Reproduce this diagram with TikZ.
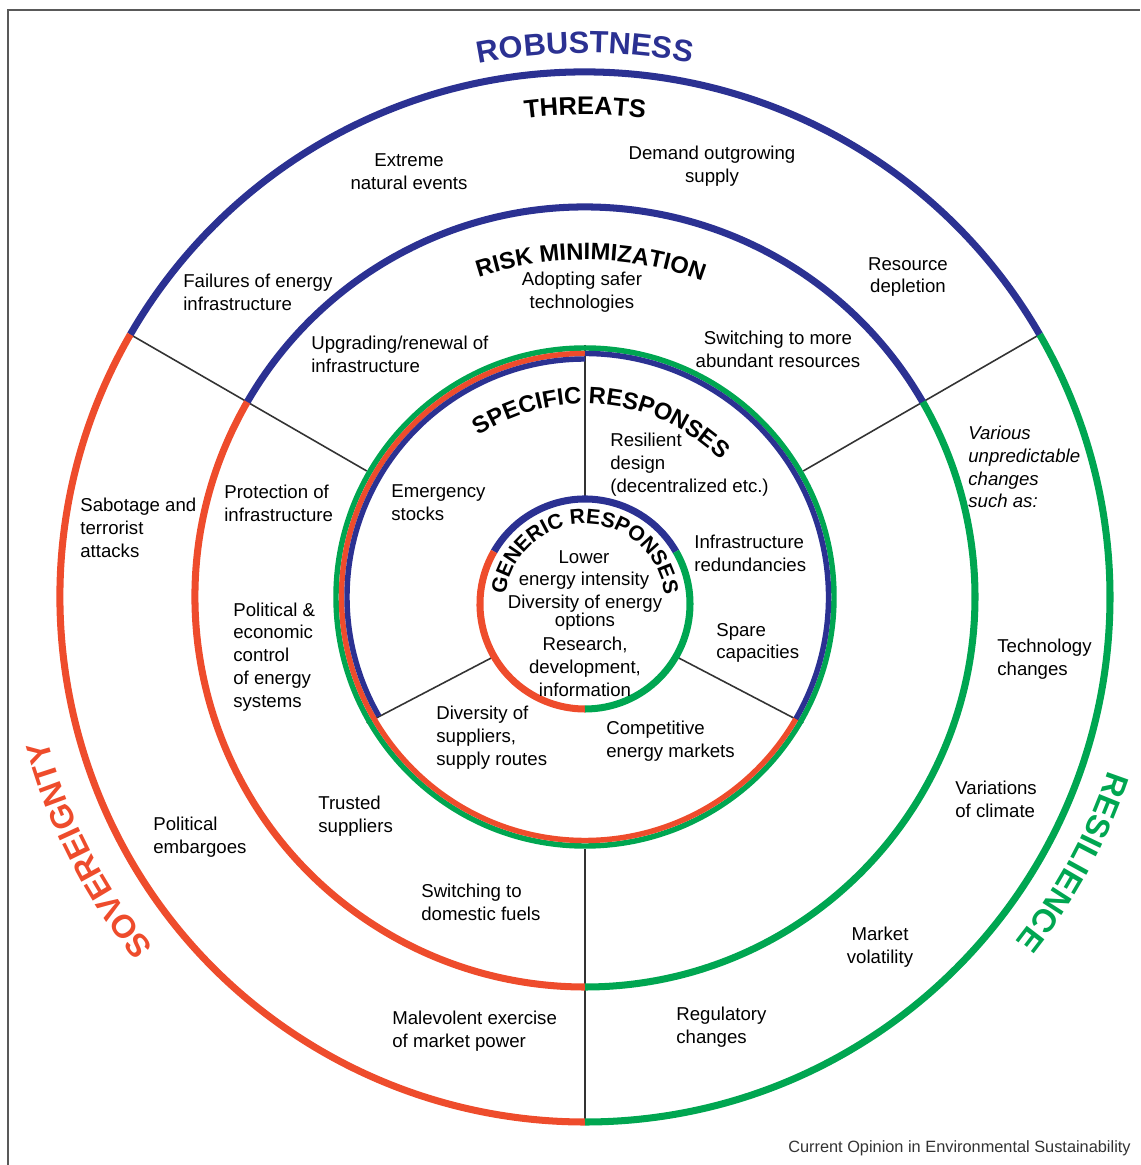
\documentclass[tikz,border=0pt]{standalone}
\usepackage{fontspec}
\setmainfont{Liberation Sans}
\usetikzlibrary{calc,decorations.text}
\definecolor{robblue}{RGB}{43,49,146}
\definecolor{sovred}{RGB}{238,76,44}
\definecolor{resgreen}{RGB}{0,166,81}
\newcommand{\bigtitle}{\bfseries\fontsize{17.5}{20}\selectfont}
\newcommand{\sidetitle}{\bfseries\fontsize{18.5}{21}\selectfont}
\newcommand{\ringtitle}{\bfseries\fontsize{14.5}{17}\selectfont}
\newcommand{\midtitle}{\bfseries\fontsize{13.5}{16}\selectfont}
\newcommand{\smalltitle}{\bfseries\fontsize{12}{14}\selectfont}
\begin{document}
\begin{tikzpicture}[x=0.02cm, y=0.02cm,
    lbl/.style={font=\fontsize{10.6}{13}\selectfont, align=left, anchor=west, inner sep=0pt},
    lblc/.style={lbl, align=center, anchor=center},
    lbli/.style={lbl, font=\fontsize{10.6}{13}\selectfont\itshape},
    ring/.style={line width=4pt},
    band/.style={line width=3.1pt},
    divider/.style={line width=0.9pt, black!80}]
    \useasboundingbox (-585,-568) rectangle (555,597);
    \draw[gray!70!black, line width=0.9pt] (-577,-568) -- (-577,587) -- (555,587);

    \coordinate (c) at (0,0);
    \coordinate (gc) at (0,-7);
    \coordinate (o30) at (30:525);
    \coordinate (o150) at (150:525);
    \coordinate (o270) at (270:525);
    \coordinate (s30) at (30:252);
    \coordinate (s150) at (150:252);
    \coordinate (s270) at (270:252);
    \coordinate (s90) at (90:252);
    \coordinate (s210) at (210:252);
    \coordinate (s330) at (330:252);
    \coordinate (g90) at ($(gc)+(90:105)$);
    \coordinate (g210) at ($(gc)+(210:105)$);
    \coordinate (g330) at ($(gc)+(330:105)$);

    \draw[divider] (o30) -- (s30);
    \draw[divider] (o150) -- (s150);
    \draw[divider] (o270) -- (s270);
    \draw[divider] (s90) -- (g90);
    \draw[divider] (s210) -- (g210);
    \draw[divider] (s330) -- (g330);

    \draw[ring, robblue] (30:525) arc[start angle=30, end angle=150, radius=525];
    \draw[ring, sovred] (150:525) arc[start angle=150, end angle=270, radius=525];
    \draw[ring, resgreen] (270:525) arc[start angle=270, end angle=390, radius=525];
    \draw[ring, robblue] (30:390) arc[start angle=30, end angle=150, radius=390];
    \draw[ring, sovred] (150:390) arc[start angle=150, end angle=270, radius=390];
    \draw[ring, resgreen] (270:390) arc[start angle=270, end angle=390, radius=390];
    \draw[band, resgreen] (c) circle[radius=249];
    \draw[band, sovred] (90:243.5) arc[start angle=90, end angle=330, radius=243.5];
    \draw[band, robblue] (90:238) arc[start angle=90, end angle=210, radius=238];
    \draw[band, robblue] (330:243.5) arc[start angle=330, end angle=450, radius=243.5];
    \draw[ring, robblue] ($(gc)+(30:105)$) arc[start angle=30, end angle=150, radius=105];
    \draw[ring, sovred] ($(gc)+(150:105)$) arc[start angle=150, end angle=270, radius=105];
    \draw[ring, resgreen] ($(gc)+(270:105)$) arc[start angle=270, end angle=390, radius=105];

    \path[decorate, decoration={text along path, text align=center, text color=robblue,
        text={|\bigtitle|ROBUSTNESS}}] (120:544) arc[start angle=120, end angle=60, radius=544];
    \path[decorate, decoration={text along path, text align=center, text color=sovred,
        text={|\sidetitle|SOVEREIGNTY}}] (237:556) arc[start angle=237, end angle=177, radius=556];
    \path[decorate, decoration={text along path, text align=center, text color=resgreen,
        text={|\sidetitle|RESILIENCE}}] (1.5:551) arc[start angle=1.5, end angle=-58.5, radius=551];
    \path[decorate, decoration={text along path, text align=center,
        text={|\ringtitle|THREATS}}] (110:482) arc[start angle=110, end angle=70, radius=482];
    \path[decorate, decoration={text along path, text align=center,
        text={|\midtitle|RISK MINIMIZATION}}] (124:337) arc[start angle=124, end angle=54, radius=337];
    \path[decorate, decoration={text along path, text align=center,
        text={|\midtitle|SPECIFIC RESPONSES}}] (144.3:193) arc[start angle=144.3, end angle=24.3, radius=193];
    \path[decorate, decoration={text along path, text align=center,
        text={|\smalltitle|GENERIC RESPONSES}}] ($(gc)+(200:80)$) arc[start angle=200, end angle=-20, radius=80];

    \node[lblc] (extreme) at (-176,425) {Extreme\\natural events};
    \node[lblc] (demand) at (127,431) {Demand outgrowing\\supply};
    \node[lbl] (failures) at (-402,305) {Failures of energy\\infrastructure};
    \node[lblc] (depletion) at (323,320) {Resource\\depletion};
    \node[lbl] (sabotage) at (-505,69) {Sabotage and\\terrorist\\attacks};
    \node[lbl] (embargoes) at (-432,-240) {Political\\embargoes};
    \node[lbl] (malevolent) at (-193,-434) {Malevolent exercise\\of market power};
    \node[lbl] (regulatory) at (91,-430) {Regulatory\\changes};
    \node[lblc] (volatility) at (295,-350) {Market\\volatility};
    \node[lbl] (climate) at (370,-202) {Variations\\of climate};
    \node[lbl] (technology) at (412,-62) {Technology\\changes};
    \node[lbli] (various) at (383,130) {Various\\unpredictable\\changes\\such as:};

    \node[lblc] (safer) at (-3,305) {Adopting safer\\technologies};
    \node[lbl] (upgrading) at (-274,243) {Upgrading/renewal of\\infrastructure};
    \node[lblc] (abundant) at (193,248) {Switching to more\\abundant resources};
    \node[lbl] (protection) at (-361,94) {Protection of\\infrastructure};
    \node[lbl] (control) at (-352,-60) {Political \&\\economic\\control\\of energy\\systems};
    \node[lbl] (trusted) at (-267,-219) {Trusted\\suppliers};
    \node[lbl] (domestic) at (-164,-305) {Switching to\\domestic fuels};

    \node[lbl] (stocks) at (-194,94) {Emergency\\stocks};
    \node[lbl] (resilient) at (25,132) {Resilient\\design\\(decentralized etc.)};
    \node[lbl] (redundancies) at (109,44) {Infrastructure\\redundancies};
    \node[lbl] (spare) at (131,-46) {Spare\\capacities};
    \node[lbl] (markets) at (21,-144) {Competitive\\energy markets};
    \node[lbl] (routes) at (-149,-141) {Diversity of\\suppliers,\\supply routes};

    \node[lblc] (intensity) at (-1,27) {Lower\\energy intensity};
    \node[lblc, font=\fontsize{10.6}{10.2}\selectfont] (options) at (0,-16) {Diversity of energy\\options};
    \node[lblc] (research) at (0,-70) {Research,\\development,\\information};

    \node[anchor=east, inner sep=0pt, font=\fontsize{9.3}{11}\selectfont, text=black!80] (credit) at (546,-551) {Current Opinion in Environmental Sustainability};
\end{tikzpicture}
\end{document}
